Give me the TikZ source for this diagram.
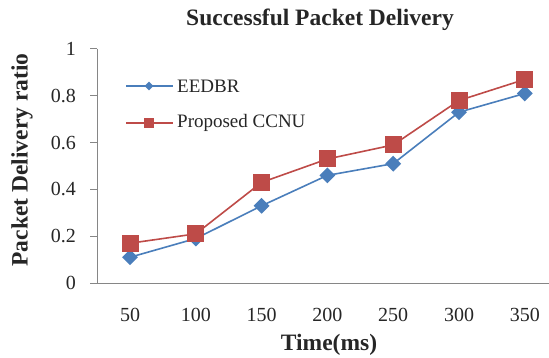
\documentclass[tikz,border=0pt]{standalone}
\usepackage{fontspec}
\setmainfont{Liberation Serif}
\usetikzlibrary{shapes.geometric,positioning}
\definecolor{eedbrblue}{HTML}{4A7EBB}
\definecolor{ccnured}{HTML}{BE4B48}
\definecolor{axisgray}{HTML}{868686}
\pgfdeclarelayer{bg}
\pgfsetlayers{bg,main}
\tikzset{axis/.style={draw=axisgray, line width=1pt},
         eedbr/.style={draw=eedbrblue, line width=1.6pt},
         ccnu/.style={draw=ccnured, line width=1.6pt},
         dmark/.style={diamond, fill=eedbrblue, inner sep=0pt, minimum width=16pt, minimum height=16pt},
         smark/.style={rectangle, fill=ccnured, inner sep=0pt, minimum size=17pt},
         ticklab/.style={font=\fontsize{20}{22}\selectfont, text=black!85, inner sep=0pt},
         axtitle/.style={font=\fontsize{23.5}{25}\selectfont\bfseries, text=black!85, inner sep=0pt},
         leglab/.style={font=\fontsize{19}{21}\selectfont, text=black!85, anchor=west, inner sep=0pt}
}
\begin{document}
\begin{tikzpicture}[x=1pt,y=1pt]
  \useasboundingbox (0,0) rectangle (549,357);
  % axes
  \coordinate (O) at (97,74);
  \coordinate (ytop) at (97,308);
  \coordinate (xend) at (549,74);
  \draw[axis] (ytop) -- (O) -- (xend);
  \foreach \k/\l in {0/0,1/0.2,2/0.4,3/0.6,4/0.8,5/1} {
    \coordinate (yt\k) at (97,{74+46.8*\k});
    \draw[axis] (yt\k) -- +(-7,0);
    \node[ticklab, anchor=east] (yl\k) at (76,{74+46.8*\k}) {\l};
  }
  \foreach \t [count=\i] in {50,100,150,200,250,300,350}
    \node[ticklab] (xl\i) at ({130+65.8*(\i-1)},42) {\t};
  % titles
  \node[axtitle] (title) at (320,337) {Successful Packet Delivery};
  \node[axtitle] (xtitle) at (329,12) {Time(ms)};
  \node[axtitle, rotate=90] (ytitle) at (22,197) {Packet Delivery ratio};
  % data
  \foreach \e/\c [count=\i] in {0.11/0.17,0.19/0.21,0.33/0.43,0.46/0.53,0.51/0.59,0.73/0.78,0.81/0.87} {
    \node[dmark] (e\i) at ({130+65.8*(\i-1)},{74+234*\e}) {};
    \node[smark] (c\i) at ({130+65.8*(\i-1)},{74+234*\c}) {};
  }
  \begin{pgfonlayer}{bg}
    \foreach \i [evaluate=\i as \j using int(\i+1)] in {1,...,6} {
      \draw[eedbr] (e\i.center) -- (e\j.center);
      \draw[ccnu] (c\i.center) -- (c\j.center);
    }
  \end{pgfonlayer}
  % legend
  \coordinate (la) at (126,271);
  \coordinate (lb) at (173,271);
  \draw[eedbr] (la) -- (lb);
  \node[dmark, minimum width=9pt, minimum height=9pt] (lm1) at (149,271) {};
  \node[leglab] (lt1) at (177,271) {EEDBR};
  \coordinate (lc) at (126,234);
  \coordinate (ld) at (173,234);
  \draw[ccnu] (lc) -- (ld);
  \node[smark, minimum size=10pt] (lm2) at (149,234) {};
  \node[leglab] (lt2) at (177,234) {Proposed CCNU};
\end{tikzpicture}
\end{document}
